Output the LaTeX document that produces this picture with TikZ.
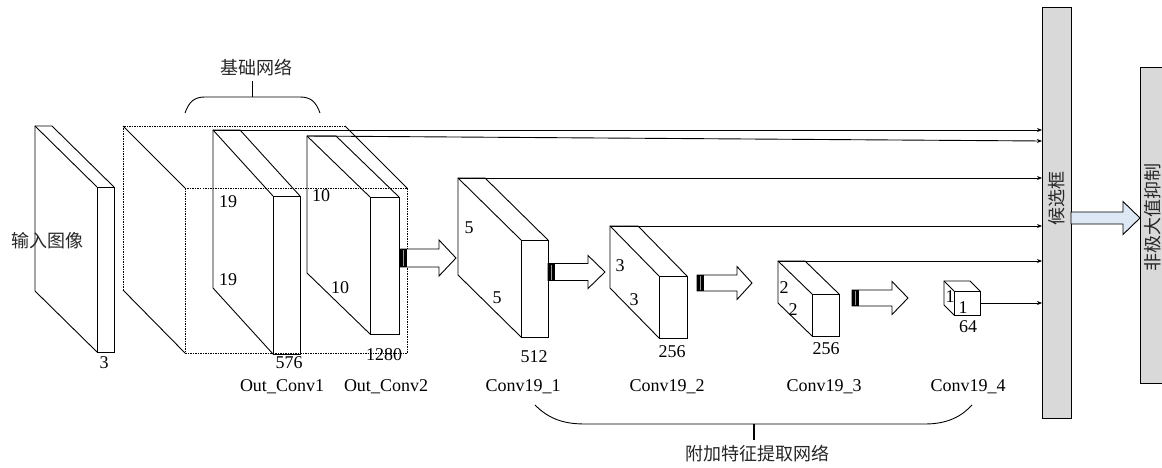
\documentclass[tikz,border=0pt]{standalone}
\usepackage{fontspec}
\setmainfont{Liberation Serif}
\newfontfamily\cjk{Noto Sans CJK SC}
\usetikzlibrary{arrows.meta}
\definecolor{lightblue}{RGB}{222,231,244}
\tikzset{
  edge/.style={line width=0.9pt, line join=miter},
  dotedge/.style={line width=0.9pt, dash pattern=on 1.5pt off 1pt},
  conn/.style={line width=0.9pt, -{Stealth[length=5pt,width=4pt]}},
  lbl/.style={font=\fontsize{18}{18}\selectfont, inner sep=0pt},
  cjklbl/.style={font=\cjk\fontsize{18}{18}\selectfont, inner sep=0pt, text=black!85},
  panel/.style={draw, line width=1.2pt, fill=black!15, inner sep=0pt},
}
% name, bx, by, w, h, dx, dy
\newcommand\slab[7]{%
  \coordinate (#1-b) at (#2,#3);
  \coordinate (#1-bt) at ({#2+#4},#3);
  \coordinate (#1-bb) at (#2,{#3+#5});
  \coordinate (#1-f) at ({#2+#6},{#3+#7});
  \coordinate (#1-ft) at ({#2+#4+#6},{#3+#7});
  \coordinate (#1-fb) at ({#2+#6},{#3+#5+#7});
  \coordinate (#1-fbr) at ({#2+#4+#6},{#3+#5+#7});
  \coordinate (#1-r) at ({#2+#4+#6},{#3+#7+#5/2});
  \draw[edge] (#1-fb) -- (#1-bb) -- (#1-b) -- (#1-bt) -- (#1-ft);
  \draw[edge] (#1-b) -- (#1-f);
  \draw[edge] (#1-f) rectangle (#1-fbr);
}
% x1, x2, yc, shaft half, head half, head length, fill, tail?
\newcommand\blkarrow[8]{%
  \draw[line width=0.9pt, fill=#7] (#1,{#3-#4}) -- ({#2-#6},{#3-#4}) -- ({#2-#6},{#3-#5})
    -- (#2,#3) -- ({#2-#6},{#3+#5}) -- ({#2-#6},{#3+#4}) -- (#1,{#3+#4}) -- cycle;
  \ifnum#8=1
    \fill[black] (#1,{#3-#4}) rectangle ({#1+7},{#3+#4});
    \draw[black!40, line width=1pt] ({#1+3.5},{#3-#4+1}) -- ({#1+3.5},{#3+#4-1});
  \fi
}
\begin{document}
\begin{tikzpicture}[x=1pt,y=-1pt]
\useasboundingbox (0,0) rectangle (1162,468);

% input image
\slab{inp}{35}{126}{17}{165}{62}{61}
\node[cjklbl] (inpl) at (47,241) {输入图像};
\node[lbl] (inpn) at (104,363) {3};

% dashed base network box
\coordinate (db-b) at (123,126);
\coordinate (db-bt) at (345,126);
\coordinate (db-bb) at (123,290);
\coordinate (db-f) at (185,188);
\coordinate (db-ft) at (407,188);
\coordinate (db-fb) at (185,353);
\coordinate (db-fbr) at (407,353);
\draw[dotedge] (db-bb) -- (db-b) -- (db-bt);
\draw[dotedge] (db-f) rectangle (db-fbr);
\draw[edge] (db-b) -- (db-f);
\draw[edge] (db-bt) -- (db-ft);
\draw[edge] (db-bb) -- (db-fb);

% Out_Conv1
\slab{oc1}{213}{130}{27}{158}{60}{66}
\node[lbl] at (228,202) {19};
\node[lbl] at (228,280) {19};
\node[lbl] at (289,363) {576};
\node[lbl] at (282,387) {Out\_Conv1};

% Out_Conv2
\slab{oc2}{307}{136}{29}{137}{63}{61}
\node[lbl] at (321,196) {10};
\node[lbl] at (340,288) {10};
\node[lbl] at (384,355) {1280};
\node[lbl] at (386,387) {Out\_Conv2};

% Conv19_1
\slab{c1}{458}{178}{27}{97}{63}{62}
\node[lbl] at (469,228) {5};
\node[lbl] at (497,298) {5};
\node[lbl] at (534,357) {512};
\node[lbl] at (523,387) {Conv19\_1};

% Conv19_2
\slab{c2}{610}{226}{28}{62}{49}{50}
\node[lbl] at (620,266) {3};
\node[lbl] at (634,300) {3};
\node[lbl] at (672,352) {256};
\node[lbl] at (667,387) {Conv19\_2};

% Conv19_3
\slab{c3}{778}{261}{27}{42}{34}{33}
\node[lbl] at (784,288) {2};
\node[lbl] at (793,310) {2};
\node[lbl] at (826,349) {256};
\node[lbl] at (824,387) {Conv19\_3};

% Conv19_4
\slab{c4}{944}{281}{26}{24}{10}{10}
\node[lbl] at (950,297) {1};
\node[lbl] at (963,308) {1};
\node[lbl] at (968,327) {64};
\node[lbl] at (968,387) {Conv19\_4};

% block arrows between stages
\blkarrow{400}{456}{258}{9}{18}{17}{white}{1}
\blkarrow{548}{605}{272}{8.5}{16.5}{17}{white}{1}
\blkarrow{697}{752}{283}{8}{16.5}{15}{white}{1}
\blkarrow{852}{908}{298}{8}{16.5}{16}{white}{1}

% candidate box
\node[panel, anchor=north west, minimum width=29pt, minimum height=411pt] (cand) at (1042,7) {};
\node[cjklbl, rotate=90] (candl) at (1057,198) {候选框};

% NMS box
\node[panel, anchor=north west, minimum width=40pt, minimum height=316pt] (nms) at (1140,67) {};
\node[cjklbl, rotate=90] (nmsl) at (1153,217) {非极大值抑制};

% big light-blue arrow
\blkarrow{1071}{1140}{218}{6}{16.5}{17}{lightblue}{0}

% connectors to candidate box
\draw[conn] (oc1-b) -- (oc1-b -| cand.west);
\coordinate (e2) at (1042,141);
\draw[conn] (oc2-b) -- (e2);
\draw[conn] (c1-b) -- (c1-b -| cand.west);
\draw[conn] (c2-b) -- (c2-b -| cand.west);
\draw[conn] (c3-b) -- (c3-b -| cand.west);
\draw[conn] (c4-r) -- (c4-r -| cand.west);

% top brace
\draw[line width=0.9pt] (185,113) .. controls (189,102) and (194,97) .. (205,97) -- (300,97)
  .. controls (311,97) and (316,102) .. (320,113);
\draw[line width=0.9pt] (252,97) -- (252,81);
\node[cjklbl] (basel) at (256,68) {基础网络};

% bottom brace
\draw[line width=0.9pt] (535,405) .. controls (548,418) and (562,424) .. (585,424) -- (925,424)
  .. controls (948,424) and (962,416) .. (972,405);
\draw[line width=1.2pt] (754,424) -- (754,440);
\node[cjklbl] (extl) at (757,454) {附加特征提取网络};
\end{tikzpicture}
\end{document}
